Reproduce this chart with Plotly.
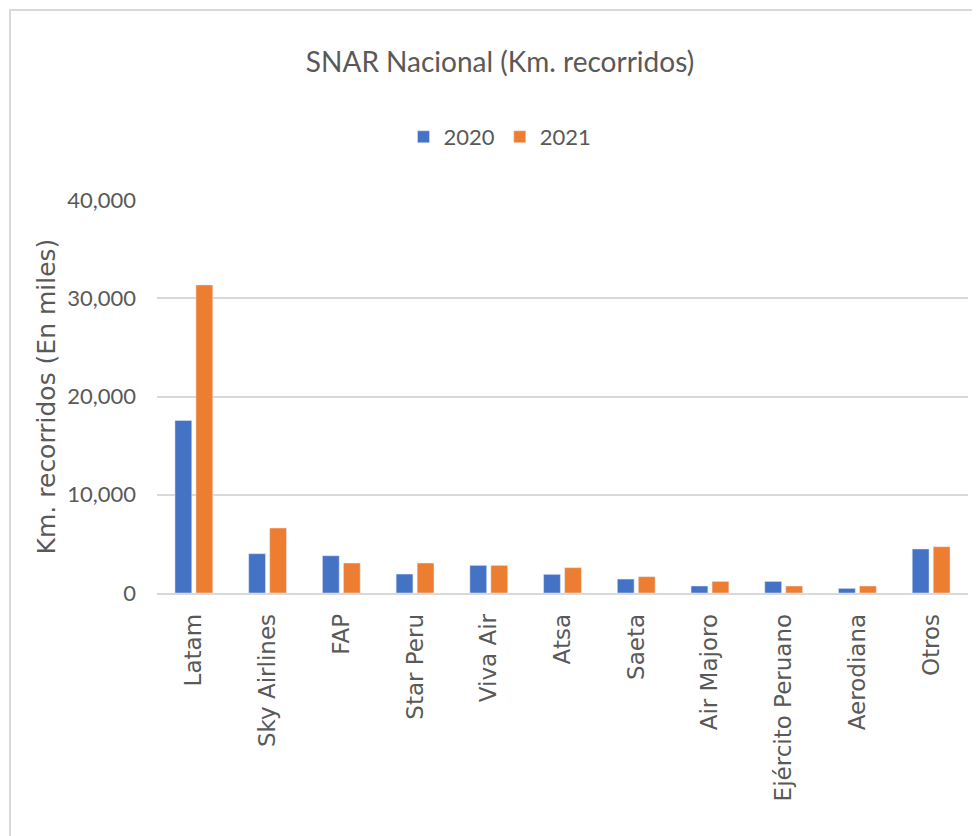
import plotly.graph_objects as go

categories = ["Latam", "Sky Airlines", "FAP", "Star Peru", "Viva Air", "Atsa",
              "Saeta", "Air Majoro", "Ejército Peruano", "Aerodiana", "Otros"]
values_2020 = [17560, 4000, 3790, 1930, 2810, 1900, 1420, 710, 1180, 470, 4480]
values_2021 = [31360, 6610, 3050, 3050, 2810, 2580, 1660, 1180, 710, 710, 4710]
y_ticks = [0, 10000, 20000, 30000, 40000]

NARROW = "Lato, Liberation Sans, sans-serif"
WIDE = "DejaVu Sans, Verdana, sans-serif"
GRAY = "#595959"
OFF = 8  # page body margin

fig = go.Figure()
fig.add_trace(go.Bar(name="2020", x=categories, y=values_2020, marker_color="#4472C4"))
fig.add_trace(go.Bar(name="2021", x=categories, y=values_2021, marker_color="#ED7D31"))

L, R, T, B = 157 - OFF, 980 - (968 - OFF), 200 - OFF, 836 - (593 - OFF)
W = 980 - L - R
H = 836 - T - B

fig.update_layout(
    width=980, height=836,
    margin=dict(l=L, r=R, t=T, b=B),
    paper_bgcolor="white", plot_bgcolor="white",
    barmode="group", bargap=0.43, bargroupgap=0.2,
    title=dict(text="SNAR Nacional (Km. recorridos)", x=(500 - OFF)/980, xref="container",
               xanchor="center", y=1-(62 - OFF)/836, yref="container", yanchor="middle",
               font=dict(family=NARROW, size=28, color=GRAY)),
    legend=dict(orientation="h", x=(500 - OFF)/980, xref="container", xanchor="center",
                y=1-(137 - OFF)/836, yref="container", yanchor="middle",
                font=dict(family=NARROW, size=22, color=GRAY),
                itemwidth=30, traceorder="normal"),
    xaxis=dict(tickangle=-90, tickfont=dict(family=WIDE, size=23, color=GRAY),
               showline=True, linecolor="#d9d9d9", linewidth=1.5,
               ticks="", ticklabelstandoff=10),
    yaxis=dict(range=[0, 40000], tickvals=y_ticks, tickformat=",",
               tickfont=dict(family=NARROW, size=22, color=GRAY),
               showgrid=True, gridcolor="#d9d9d9", gridwidth=1.5,
               zeroline=False, ticks="", ticklabelstandoff=20,
               title=dict(text="Km. recorridos (En miles)", standoff=4,
                          font=dict(family=WIDE, size=25, color=GRAY))),
    shapes=[dict(type="rect", xref="paper", yref="paper",
                 x0=(10 - OFF - L)/W, x1=(1010 - L)/W,
                 y0=-1.0, y1=(836 - B - (10 - OFF))/H,
                 line=dict(color="#d9d9d9", width=2), fillcolor="rgba(0,0,0,0)",
                 layer="below")],
)

fig.write_html("out.html")
